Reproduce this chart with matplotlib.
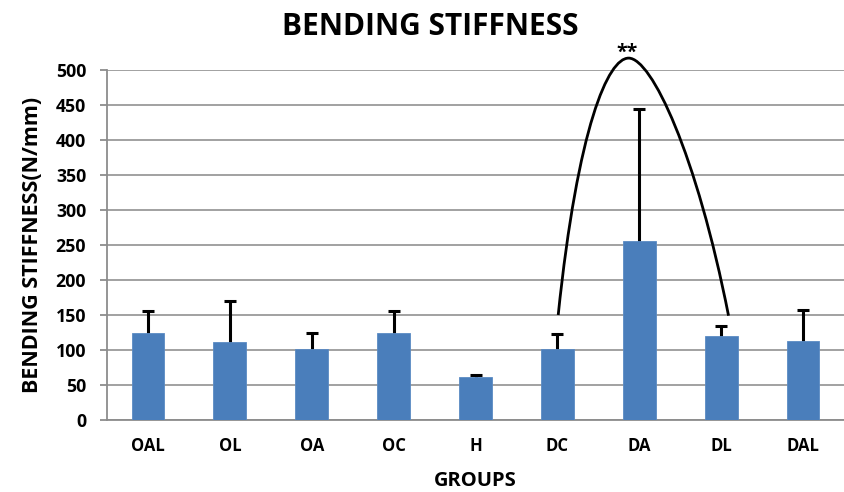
import matplotlib
matplotlib.use("Agg")
import matplotlib.pyplot as plt
from matplotlib.path import Path
from matplotlib.patches import PathPatch

groups = ["OAL", "OL", "OA", "OC", "H", "DC", "DA", "DL", "DAL"]
means = [125, 111, 101, 125, 62, 101, 255, 120, 113]
upper_err = [31, 59, 24, 31, 3, 22, 189, 14, 44]

# significance bracket between DC and DL (category units, N/mm)
bracket_x = [5.01, 5.25, 5.62, 5.87, 6.15, 6.70, 7.09]
bracket_y = [150, 420, 517, 517, 517, 380, 149]
sig_label = "**"

plt.rcParams["font.family"] = ["Open Sans", "DejaVu Sans"]

fig = plt.figure(figsize=(8.44, 4.92), dpi=100)
ax = fig.add_axes([107 / 844, 72 / 492, 737 / 844, 350 / 492])

x = list(range(len(groups)))
ax.bar(x, means, width=0.4, color="#4A7EBB", edgecolor="#5B8BC4", linewidth=0.6, zorder=3)
# error bars sit behind the bars so only the upward whisker shows
ax.errorbar(x, means, yerr=[upper_err, upper_err], fmt="none",
            ecolor="black", elinewidth=2.2, capsize=4.5, capthick=2.2, zorder=2)

ax.set_xlim(-0.5, len(groups) - 0.5)
ax.set_ylim(0, 500)
ax.set_yticks(range(0, 501, 50))
ax.set_xticks(x)
ax.set_xticklabels(groups, fontsize=12, fontweight="bold")
for lbl in ax.get_yticklabels():
    lbl.set_fontsize(12.8)
    lbl.set_fontweight("bold")

ax.yaxis.grid(True, color="#9a9a9a", linewidth=1.3, zorder=0)
ax.set_axisbelow(True)
for side in ("top", "right"):
    ax.spines[side].set_visible(False)
for side in ("left", "bottom"):
    ax.spines[side].set_color("#8c8c8c")
    ax.spines[side].set_linewidth(1.3)
ax.tick_params(axis="y", length=5, width=1.3, color="#8c8c8c", pad=10)
ax.tick_params(axis="x", length=0, pad=12)

fig.text(0.51, 1 - 27 / 492, "BENDING STIFFNESS", ha="center", va="center",
         fontsize=21.5, fontweight="bold")
ax.set_ylabel("BENDING STIFFNESS(N/mm)", fontsize=15.5, fontweight="bold", labelpad=9)
ax.set_xlabel("GROUPS", fontsize=14.5, fontweight="bold", labelpad=12)

verts = list(zip(bracket_x, bracket_y))
codes = [Path.MOVETO] + [Path.CURVE4] * 6
ax.add_patch(PathPatch(Path(verts, codes), facecolor="none", edgecolor="black",
                       linewidth=2.0, clip_on=False, zorder=5))
ax.text(bracket_x[3] - 0.02, max(bracket_y), sig_label, ha="center", va="baseline",
        fontsize=14, fontweight="bold", clip_on=False)

fig.savefig("out.png", dpi=100)
